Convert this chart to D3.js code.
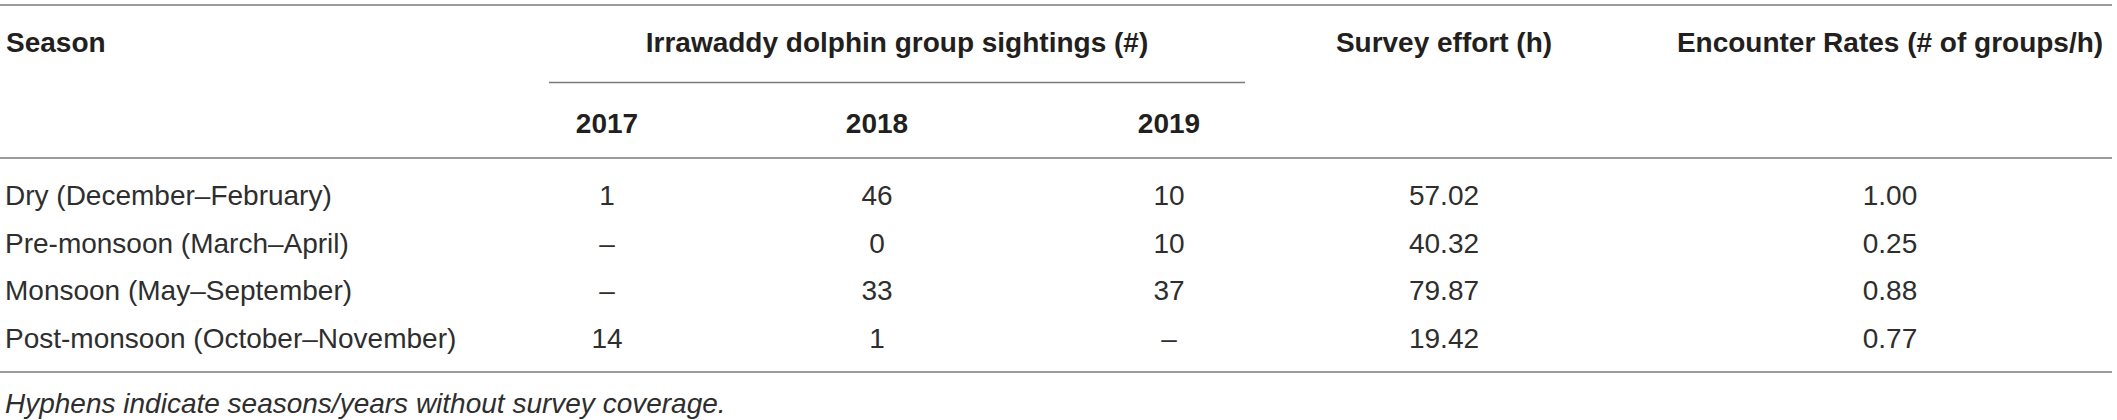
<!DOCTYPE html>
<html>
<head>
<meta charset="utf-8">
<script src="https://cdn.jsdelivr.net/npm/d3@7"></script>
<style>
  body { margin: 0; background: #fff; }
  svg { display: block; font-family: "Liberation Sans", Arial, sans-serif; }
</style>
</head>
<body>
<svg id="table"></svg>
<script>
const seasons = [
  "Dry (December–February)",
  "Pre-monsoon (March–April)",
  "Monsoon (May–September)",
  "Post-monsoon (October–November)"
];
const years = ["2017", "2018", "2019"];
const sightings2017 = [1, null, null, 14];
const sightings2018 = [46, 0, 33, 1];
const sightings2019 = [10, 10, 37, null];
const surveyEffort = [57.02, 40.32, 79.87, 19.42];
const encounterRates = [1.00, 0.25, 0.88, 0.77];
const footnote = "Hyphens indicate seasons/years without survey coverage.";

document.addEventListener("DOMContentLoaded", function() {
  const width = 2117;
  const height = 420;
  const lineColor = "#7a7a7a";
  const headColor = "#231f20";
  const bodyColor = "#2e2e2e";

  const svg = d3.select("#table")
      .attr("width", width)
      .attr("height", height);

  svg.append("rect").attr("width", width).attr("height", height).attr("fill", "#fff");

  // column centres
  const col = d3.scaleOrdinal()
      .domain(["2017", "2018", "2019", "effort", "rate"])
      .range([607, 877, 1169, 1444, 1890]);

  // row baselines
  const row = d3.scaleLinear()
      .domain([0, seasons.length - 1])
      .range([205, 347.5]);

  const rules = [
    { x1: 0, x2: 2112, y: 5 },
    { x1: 549, x2: 1245, y: 82.5 },
    { x1: 0, x2: 2112, y: 158 },
    { x1: 0, x2: 2112, y: 372 }
  ];

  svg.selectAll(".rule")
      .data(rules)
      .enter()
      .append("line")
      .attr("class", "rule")
      .attr("x1", d => d.x1)
      .attr("x2", d => d.x2)
      .attr("y1", d => d.y)
      .attr("y2", d => d.y)
      .attr("stroke", lineColor)
      .attr("stroke-width", 1.6);

  // header
  const head = svg.append("g")
      .attr("font-size", 28)
      .attr("font-weight", "bold")
      .attr("fill", headColor);

  head.append("text").attr("x", 6).attr("y", 52).text("Season");
  head.append("text").attr("x", 897).attr("y", 52).attr("text-anchor", "middle")
      .text("Irrawaddy dolphin group sightings (#)");
  head.append("text").attr("x", col("effort")).attr("y", 52).attr("text-anchor", "middle")
      .text("Survey effort (h)");
  head.append("text").attr("x", col("rate")).attr("y", 52).attr("text-anchor", "middle")
      .text("Encounter Rates (# of groups/h)");

  head.selectAll(".year")
      .data(years)
      .enter()
      .append("text")
      .attr("class", "year")
      .attr("x", d => col(d))
      .attr("y", 133)
      .attr("text-anchor", "middle")
      .text(d => d);

  // body
  const dash = v => v == null ? "–" : String(v);
  const f2 = d3.format(".2f");

  const rows = svg.selectAll(".row")
      .data(seasons.map((s, i) => ({
        season: s,
        cells: [
          { key: "2017", text: dash(sightings2017[i]) },
          { key: "2018", text: dash(sightings2018[i]) },
          { key: "2019", text: dash(sightings2019[i]) },
          { key: "effort", text: f2(surveyEffort[i]) },
          { key: "rate", text: f2(encounterRates[i]) }
        ]
      })))
      .enter()
      .append("g")
      .attr("class", "row")
      .attr("transform", (d, i) => `translate(0,${row(i)})`)
      .attr("font-size", 28)
      .attr("fill", bodyColor);

  rows.append("text")
      .attr("x", 5)
      .text(d => d.season);

  rows.selectAll(".cell")
      .data(d => d.cells)
      .enter()
      .append("text")
      .attr("class", "cell")
      .attr("x", d => col(d.key))
      .attr("text-anchor", "middle")
      .text(d => d.text);

  svg.append("text")
      .attr("x", 5)
      .attr("y", 413)
      .attr("font-size", 28)
      .attr("font-style", "italic")
      .attr("fill", bodyColor)
      .text(footnote);
});
</script>
</body>
</html>
